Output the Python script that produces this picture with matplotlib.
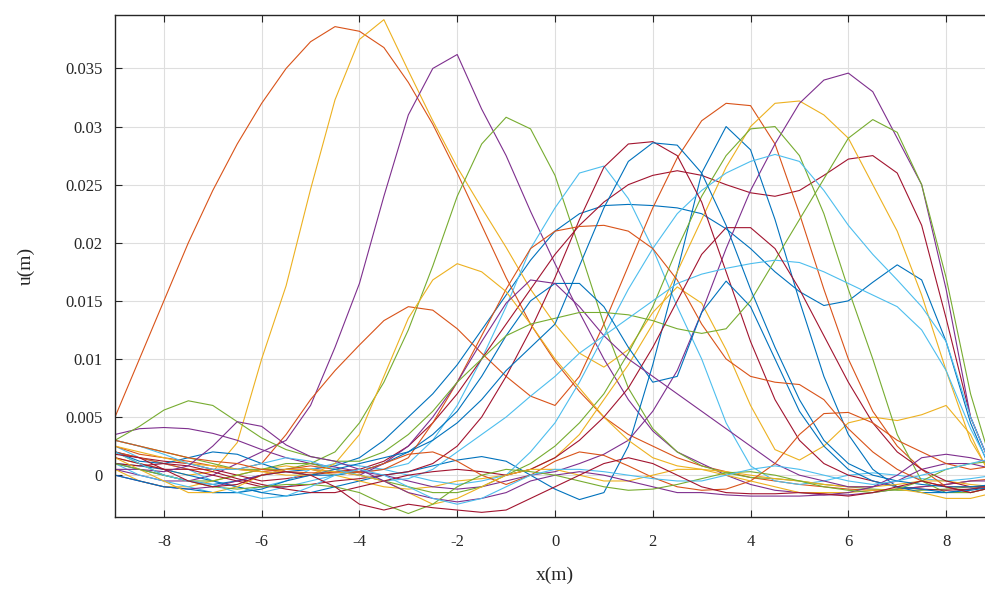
import numpy as np
import matplotlib
matplotlib.use("Agg")
import matplotlib.pyplot as plt
from cycler import cycler

# Sampling positions along the beam (m)
x = np.linspace(-9, 9, 37)

# Displacement snapshots u(x), in units of 1e-3 m
u_01 = [1.0, 0.5, 0.0, -0.5, -0.8, -0.5, 0.0, 0.3, 0.5, 0.8, 1.5, 3.0, 5.0, 7.0, 9.5, 12.5, 15.5, 18.5, 21.0, 22.5, 23.2, 23.3, 23.2, 23.0, 22.5, 21.2, 19.5, 17.5, 15.8, 14.6, 15.0, 16.6, 18.1, 16.8, 11.5, 4.5, -0.5]
u_02 = [5.0, 10.0, 15.0, 20.0, 24.5, 28.5, 32.0, 35.0, 37.3, 38.6, 38.2, 36.8, 33.8, 30.2, 26.0, 21.5, 17.0, 13.0, 9.8, 7.2, 5.0, 3.5, 2.5, 1.5, 0.8, 0.3, -0.2, -0.5, -0.8, -1.0, -1.2, -1.3, -1.2, -1.0, -0.8, -0.5, -0.3]
u_03 = [1.5, 1.0, 0.5, 0.0, 0.3, 2.8, 10.0, 16.3, 24.6, 32.3, 37.5, 39.2, 34.8, 30.5, 26.5, 23.0, 19.6, 16.0, 13.0, 10.5, 9.3, 10.8, 14.0, 16.2, 14.8, 10.8, 6.0, 2.2, 1.3, 2.5, 4.5, 5.0, 4.7, 5.2, 6.0, 3.5, -1.0]
u_04 = [0.5, 0.0, -0.5, -0.5, 0.0, 1.0, 2.0, 3.0, 6.0, 11.0, 16.5, 24.0, 31.0, 35.0, 36.2, 31.5, 27.5, 22.7, 18.2, 14.0, 10.0, 6.5, 3.8, 2.0, 1.0, 0.0, -0.8, -1.3, -1.5, -1.7, -1.7, -1.5, -1.2, -1.0, -0.8, -0.5, -0.5]
u_05 = [3.0, 2.5, 2.0, 1.5, 1.0, 0.5, 0.5, 0.5, 1.0, 2.0, 4.5, 8.0, 12.5, 18.0, 24.0, 28.5, 30.8, 29.8, 25.8, 19.5, 13.0, 7.5, 4.0, 2.0, 0.8, 0.2, -0.2, -0.3, -0.5, -0.8, -1.0, -1.2, -1.3, -1.3, -1.2, -1.0, -1.0]
u_06 = [2.5, 1.5, 1.0, 0.5, -0.5, -1.0, -1.5, -1.0, -0.5, 0.0, 0.3, 0.5, 1.0, 3.0, 6.0, 10.0, 14.5, 19.5, 23.0, 26.0, 26.6, 23.8, 19.5, 14.5, 10.0, 4.5, 0.8, -0.5, -0.8, -0.5, 0.0, 0.2, 0.0, -0.3, -0.5, -0.3, 0.0]
u_07 = [2.0, 1.5, 1.2, 1.0, 0.5, 0.0, -0.5, -0.3, 0.0, 0.3, 0.5, 1.2, 2.5, 4.5, 7.0, 10.0, 13.0, 16.0, 19.0, 21.5, 23.5, 25.0, 25.8, 26.2, 25.8, 25.0, 24.3, 24.0, 24.5, 25.8, 27.2, 27.5, 26.0, 21.5, 13.5, 5.0, 0.0]

u_08 = [1.0, 0.8, 0.5, 0.0, -0.5, -1.0, -1.5, -1.8, -1.5, -1.0, -0.5, 0.0, 0.3, 0.8, 1.3, 1.6, 1.2, 0.0, -1.2, -2.1, -1.5, 2.5, 9.5, 17.5, 26.0, 30.0, 28.0, 22.0, 15.0, 8.5, 3.5, 0.5, -1.0, -1.5, -1.5, -1.2, -0.8]
u_09 = [2.0, 1.5, 1.0, 0.5, 0.5, 0.5, 1.0, 3.5, 6.5, 9.0, 11.2, 13.3, 14.5, 14.2, 12.6, 10.5, 8.5, 6.8, 6.0, 8.5, 13.0, 18.0, 23.0, 27.3, 30.5, 32.0, 31.8, 28.5, 22.5, 16.0, 10.0, 5.5, 2.5, 0.5, -1.0, -1.5, -1.0]
u_10 = [0.5, -0.5, -1.0, -1.0, -0.5, 0.0, 0.5, 0.8, 0.5, 0.0, -0.5, -1.0, -1.2, -1.0, -0.5, -0.3, 0.0, 0.5, 1.5, 3.5, 6.5, 9.5, 13.0, 17.5, 22.0, 26.5, 30.0, 32.0, 32.2, 31.0, 29.0, 25.0, 21.0, 15.5, 9.0, 3.0, -0.5]
u_11 = [3.5, 4.0, 4.1, 4.0, 3.6, 3.0, 2.2, 1.5, 1.0, 0.7, 0.3, 0.0, -0.5, -1.0, -1.2, -1.0, -0.5, 0.0, 0.3, 1.0, 1.8, 3.0, 5.5, 9.0, 14.0, 19.5, 24.5, 28.5, 32.0, 34.0, 34.6, 33.0, 29.0, 25.0, 16.0, 5.0, 0.0]
u_12 = [2.0, 1.0, 0.0, -0.5, -0.5, 0.0, 0.5, 1.0, 1.0, 0.5, 0.0, -0.5, -1.0, -1.5, -1.5, -1.0, 0.0, 1.0, 2.5, 4.5, 7.0, 10.5, 14.5, 19.5, 24.0, 27.5, 29.8, 30.0, 27.5, 22.5, 16.0, 10.0, 3.5, -0.5, -1.5, -1.5, -1.0]
u_13 = [1.0, 0.0, -0.5, -1.0, -1.5, -1.5, -1.0, -0.5, 0.5, 1.0, 0.8, 0.5, 0.0, -0.5, -0.8, -0.5, 0.0, 2.0, 4.5, 8.0, 12.0, 16.0, 19.5, 22.5, 24.5, 26.0, 27.0, 27.6, 27.0, 24.5, 21.5, 19.0, 16.8, 14.5, 11.5, 5.0, 0.0]
u_14 = [1.5, 1.0, 0.5, 0.5, 0.0, -0.5, -1.0, -1.0, -0.8, -0.5, -0.3, 0.0, 0.3, 1.0, 2.5, 5.0, 8.5, 12.5, 17.0, 22.0, 26.5, 28.5, 28.7, 27.5, 23.5, 17.5, 11.5, 6.5, 3.0, 1.0, 0.0, -0.5, -1.0, -1.2, -1.3, -1.2, -1.0]

u_15 = [2.0, 1.2, 1.0, 1.5, 2.0, 1.8, 1.0, 0.3, 0.0, 0.0, 0.3, 1.0, 2.0, 3.5, 5.5, 8.5, 12.0, 15.0, 16.5, 16.5, 14.5, 11.0, 8.0, 8.5, 14.0, 16.7, 14.5, 10.0, 5.5, 2.5, 0.5, -0.5, -1.0, -1.2, -1.5, -1.3, -1.0]
u_16 = [2.5, 1.8, 1.5, 1.2, 0.8, 0.5, 0.3, 0.5, 0.8, 0.5, 0.2, 0.5, 1.5, 4.5, 8.0, 12.0, 16.0, 19.5, 21.0, 21.4, 21.5, 21.0, 19.5, 16.8, 13.0, 10.0, 8.5, 8.0, 7.8, 6.5, 4.0, 2.0, 0.5, -0.5, -1.0, -1.0, -1.0]
u_17 = [2.5, 2.0, 1.5, 1.0, 0.8, 0.5, 0.3, 0.0, 0.0, 1.0, 3.5, 8.5, 13.5, 16.8, 18.2, 17.5, 15.8, 13.0, 10.0, 7.5, 5.0, 3.0, 1.5, 0.8, 0.5, 0.3, 0.0, -0.3, -0.5, -0.8, -1.0, -1.0, -0.8, -0.5, -0.5, -0.8, -1.0]
u_18 = [0.0, -0.5, -1.0, -1.2, -1.0, -0.5, 0.0, 0.5, 0.5, 0.3, 0.0, 1.0, 2.5, 5.0, 8.0, 11.5, 14.8, 16.8, 16.5, 14.5, 12.0, 10.0, 8.5, 7.0, 5.5, 4.0, 2.5, 1.0, 0.0, -0.5, -1.0, -1.0, -0.5, 0.5, 1.0, 1.0, 0.5]
u_19 = [3.0, 4.2, 5.6, 6.4, 6.0, 4.6, 3.2, 2.2, 1.6, 1.2, 1.2, 2.0, 3.5, 5.5, 8.0, 10.0, 12.0, 13.0, 13.5, 14.0, 14.0, 13.8, 13.3, 12.6, 12.2, 12.6, 15.0, 18.5, 22.0, 25.5, 29.0, 30.6, 29.5, 25.0, 17.0, 7.0, 0.0]
u_20 = [3.0, 2.5, 1.8, 1.0, 0.5, 0.5, 1.0, 1.5, 1.2, 0.5, 0.0, -0.5, -0.3, 0.5, 2.0, 3.5, 5.0, 6.8, 8.5, 10.5, 12.0, 13.5, 15.0, 16.5, 17.3, 17.8, 18.2, 18.5, 18.3, 17.5, 16.5, 15.5, 14.5, 12.5, 9.0, 4.0, 0.0]
u_21 = [1.0, 0.8, 1.0, 0.8, 0.3, -0.3, -0.8, -1.2, -1.5, -1.5, -1.0, -0.5, 0.0, 0.3, 0.5, 0.3, 0.0, 0.5, 1.5, 3.0, 5.0, 7.5, 11.0, 15.0, 19.0, 21.3, 21.3, 19.5, 16.0, 12.0, 8.0, 4.5, 2.0, 0.5, -0.5, -1.0, -1.0]

u_22 = [0.0, -0.5, -1.0, -1.2, -1.5, -1.5, -1.2, -0.5, 0.0, 0.5, 1.0, 1.5, 2.0, 3.0, 4.5, 6.5, 9.0, 11.0, 13.0, 18.0, 23.0, 27.0, 28.6, 28.4, 26.0, 21.5, 16.0, 11.0, 6.5, 3.0, 1.0, 0.0, -0.5, -0.8, -1.0, -1.0, -0.8]
u_23 = [3.0, 2.5, 2.0, 1.5, 1.2, 1.0, 0.5, 0.3, 0.2, 0.2, 0.3, 1.0, 1.8, 2.0, 1.2, 0.0, -0.8, 0.0, 1.2, 2.0, 1.7, 0.8, -0.2, -1.0, -1.3, -1.2, -0.5, 1.0, 3.5, 5.3, 5.4, 4.5, 3.0, 2.0, 1.0, 0.5, 0.8]
u_24 = [1.5, 0.5, -0.5, -1.5, -1.5, -1.0, 0.0, 0.5, 0.5, 0.3, 0.0, -0.5, -1.5, -2.5, -2.0, -1.0, 0.0, 0.5, 0.5, 0.0, -0.5, -0.5, 0.0, 0.5, 0.5, 0.0, -0.5, -1.0, -1.5, -1.5, -1.5, -1.3, -1.2, -1.5, -2.0, -2.0, -1.5]
u_25 = [0.5, 0.5, 0.3, 0.8, 2.5, 4.6, 4.2, 2.6, 1.6, 1.2, 0.5, -0.5, -1.5, -2.0, -2.3, -2.0, -1.5, -0.5, 0.0, 0.3, 0.0, -0.5, -1.0, -1.5, -1.5, -1.7, -1.8, -1.8, -1.8, -1.7, -1.5, -1.0, 0.0, 1.5, 1.8, 1.5, 1.0]
u_26 = [1.0, 0.5, 0.0, -0.5, -1.0, -1.2, -1.0, -0.8, -0.8, -1.0, -1.5, -2.5, -3.3, -2.5, -1.0, 0.0, 0.5, 0.3, 0.0, -0.5, -1.0, -1.3, -1.2, -0.8, -0.3, 0.2, 0.3, 0.0, -0.5, -1.0, -1.3, -1.5, -1.2, -0.5, 0.5, 1.0, 1.2]
u_27 = [2.0, 1.0, 0.0, -0.5, -0.8, -1.5, -2.0, -1.8, -1.0, 0.0, 0.5, 0.0, -1.0, -2.0, -2.5, -2.0, -1.0, 0.0, 0.5, 0.5, 0.3, 0.0, -0.3, -0.5, -0.5, 0.0, 0.5, 0.8, 0.5, 0.0, -0.5, -0.8, -0.5, 0.0, 0.5, 1.0, 1.5]
u_28 = [1.8, 1.5, 0.5, -0.5, -1.0, -0.8, 0.0, 0.3, 0.0, -1.0, -2.5, -3.0, -2.5, -2.8, -3.0, -3.2, -3.0, -2.0, -1.0, 0.0, 1.0, 1.5, 1.0, 0.0, -1.0, -1.5, -1.6, -1.6, -1.5, -1.6, -1.8, -1.5, -1.0, -0.5, -1.0, -1.5, -1.0]

snapshots = [u_01, u_02, u_03, u_04, u_05, u_06, u_07,
             u_08, u_09, u_10, u_11, u_12, u_13, u_14,
             u_15, u_16, u_17, u_18, u_19, u_20, u_21,
             u_22, u_23, u_24, u_25, u_26, u_27, u_28]

x_ticks = [-8, -6, -4, -2, 0, 2, 4, 6, 8]
x_tick_labels = ['-8', '-6', '-4', '-2', '0', '2', '4', '6', '8']
y_ticks = [0, 0.005, 0.01, 0.015, 0.02, 0.025, 0.03, 0.035]
y_tick_labels = ['0', '0.005', '0.01', '0.015', '0.02', '0.025', '0.03', '0.035']

line_colors = ['#0072BD', '#D95319', '#EDB120', '#7E2F8E',
               '#77AC30', '#4DBEEE', '#A2142F']

plt.rcParams['font.family'] = ['Liberation Serif', 'DejaVu Serif']

fig = plt.figure(figsize=(9.85, 5.95), dpi=100)
ax = fig.add_axes([115 / 985, 78 / 595, 880 / 985, 502 / 595])
ax.set_prop_cycle(cycler(color=line_colors))

for u in snapshots:
    ax.plot(x, np.asarray(u) * 1e-3, linewidth=0.8)

ax.set_xlim(-9, 9)
ax.set_ylim(-0.0036, 0.0396)

ax.set_xticks(x_ticks)
ax.set_xticklabels(x_tick_labels)
ax.set_yticks(y_ticks)
ax.set_yticklabels(y_tick_labels)

ax.grid(True, color='#dedede', linewidth=0.8)
ax.set_axisbelow(True)
ax.tick_params(direction='in', length=5, width=0.8, colors='#262626',
               labelsize=12, top=True, right=True)
ax.tick_params(axis='x', pad=12)
ax.tick_params(axis='y', pad=9)
for side in ax.spines.values():
    side.set_color('#262626')
    side.set_linewidth(1.0)

ax.set_xlabel('x(m)', fontsize=14, color='#262626', labelpad=12)
ax.set_ylabel('u(m)', fontsize=14, color='#262626', labelpad=22)

fig.savefig('out.png', dpi=100)
